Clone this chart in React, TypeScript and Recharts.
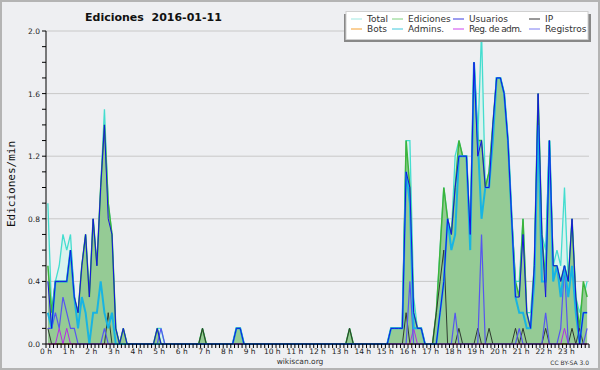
import { ComposedChart, Area, Line, XAxis, YAxis, CartesianGrid } from 'recharts';

// 10-minute slots, 6 per hour, values in edits per minute
const hourLabels = [
  '0 h', '1 h', '2 h', '3 h', '4 h', '5 h', '6 h', '7 h', '8 h', '9 h', '10 h', '11 h',
  '12 h', '13 h', '14 h', '15 h', '16 h', '17 h', '18 h', '19 h', '20 h', '21 h', '22 h', '23 h',
];
const yTicks = [0, 0.1, 0.2, 0.3, 0.4, 0.5, 0.6, 0.7, 0.8, 0.9, 1, 1.1, 1.2, 1.3, 1.4, 1.5, 1.6, 1.7, 1.8, 1.9, 2];
const gridValues = [0.4, 0.8, 1.2, 1.6, 2];

const total = [
  0.9, 0.2, 0.4, 0.5, 0.7, 0.6,
  0.7, 0.3, 0.2, 0.5, 0.7, 0.3,
  0.8, 0.5, 1.0, 1.5, 0.9, 0.7,
  0.1, 0, 0.1, 0, 0, 0,
  0, 0, 0, 0, 0, 0.1,
  0.1, 0, 0, 0, 0, 0,
  0, 0, 0, 0, 0, 0.1,
  0, 0, 0, 0, 0, 0,
  0, 0, 0.1, 0.1, 0, 0,
  0, 0, 0, 0, 0, 0,
  0, 0, 0, 0, 0, 0,
  0, 0, 0, 0, 0, 0,
  0, 0, 0, 0, 0, 0,
  0, 0, 0.1, 0, 0, 0,
  0, 0, 0, 0, 0, 0,
  0, 0.1, 0.1, 0.1, 0.1, 1.3,
  1.3, 0.3, 0.1, 0.1, 0, 0,
  0, 0.2, 0.6, 1.0, 0.8, 0.7,
  1.2, 1.3, 1.2, 1.2, 0.7, 1.8,
  1.3, 2.0, 1.0, 1.1, 1.4, 1.7,
  1.7, 1.6, 1.3, 0.8, 0.4, 0.4,
  0.8, 0.2, 0.2, 0.5, 1.6, 0.7,
  0.6, 1.3, 0.5, 0.6, 0.5, 1.0,
  0.4, 0.8, 0.3, 0.2, 0.3, 0.4,
];

const ediciones = [
  0.5, 0.2, 0.4, 0.4, 0.4, 0.4,
  0.6, 0.3, 0.2, 0.5, 0.7, 0.3,
  0.8, 0.5, 1.0, 1.4, 0.9, 0.7,
  0.1, 0, 0.1, 0, 0, 0,
  0, 0, 0, 0, 0, 0.1,
  0, 0, 0, 0, 0, 0,
  0, 0, 0, 0, 0, 0.1,
  0, 0, 0, 0, 0, 0,
  0, 0, 0.1, 0.1, 0, 0,
  0, 0, 0, 0, 0, 0,
  0, 0, 0, 0, 0, 0,
  0, 0, 0, 0, 0, 0,
  0, 0, 0, 0, 0, 0,
  0, 0, 0.1, 0, 0, 0,
  0, 0, 0, 0, 0, 0,
  0, 0.1, 0.1, 0.1, 0.1, 1.3,
  1.0, 0.2, 0.1, 0.1, 0, 0,
  0, 0.2, 0.6, 1.0, 0.8, 0.7,
  1.0, 1.3, 1.2, 1.2, 0.7, 1.8,
  1.3, 1.3, 1.0, 1.1, 1.4, 1.7,
  1.7, 1.6, 1.3, 0.8, 0.4, 0.3,
  0.8, 0.2, 0.1, 0.5, 1.6, 0.7,
  0.4, 1.3, 0.5, 0.5, 0.4, 0.5,
  0.4, 0.8, 0.3, 0.1, 0.4, 0.3,
];

const usuarios = [
  0.4, 0.1, 0.4, 0.4, 0.4, 0.4,
  0.6, 0.3, 0.2, 0.5, 0.7, 0.3,
  0.8, 0.5, 1.0, 1.4, 0.8, 0.7,
  0.1, 0, 0.1, 0, 0, 0,
  0, 0, 0, 0, 0, 0.1,
  0, 0, 0, 0, 0, 0,
  0, 0, 0, 0, 0, 0,
  0, 0, 0, 0, 0, 0,
  0, 0, 0.1, 0.1, 0, 0,
  0, 0, 0, 0, 0, 0,
  0, 0, 0, 0, 0, 0,
  0, 0, 0, 0, 0, 0,
  0, 0, 0, 0, 0, 0,
  0, 0, 0, 0, 0, 0,
  0, 0, 0, 0, 0, 0,
  0, 0.1, 0.1, 0.1, 0.1, 1.1,
  1.0, 0.2, 0.1, 0.1, 0, 0,
  0, 0, 0.2, 0.4, 0.8, 0.7,
  1.0, 1.2, 1.2, 1.2, 0.7, 1.8,
  1.2, 1.3, 1.0, 1.0, 1.4, 1.7,
  1.7, 1.6, 1.3, 0.8, 0.3, 0.3,
  0.7, 0.2, 0.1, 0.5, 1.6, 0.7,
  0.3, 1.3, 0.5, 0.5, 0.4, 0.5,
  0.4, 0.8, 0.3, 0, 0.2, 0.2,
];

const ip = [
  0.1, 0, 0, 0, 0, 0,
  0, 0, 0, 0, 0, 0,
  0, 0, 0, 0, 0.2, 0,
  0, 0, 0, 0, 0, 0,
  0, 0, 0, 0, 0, 0,
  0, 0, 0, 0, 0, 0,
  0, 0, 0, 0, 0, 0.1,
  0, 0, 0, 0, 0, 0,
  0, 0, 0, 0, 0, 0,
  0, 0, 0, 0, 0, 0,
  0, 0, 0, 0, 0, 0,
  0, 0, 0, 0, 0, 0,
  0, 0, 0, 0, 0, 0,
  0, 0, 0.1, 0, 0, 0,
  0, 0, 0, 0, 0, 0,
  0, 0, 0, 0, 0, 0.2,
  0, 0, 0, 0, 0, 0,
  0, 0.2, 0.4, 0.6, 0, 0,
  0, 0.1, 0, 0, 0, 0,
  0.1, 0, 0, 0.1, 0, 0,
  0, 0, 0, 0, 0.1, 0,
  0.1, 0, 0, 0, 0, 0,
  0.1, 0, 0, 0, 0, 0,
  0, 0.1, 0, 0.1, 0, 0,
];

const bots = [
  0, 0, 0, 0, 0, 0,  0, 0, 0, 0, 0, 0,  0, 0, 0, 0, 0, 0,  0, 0, 0, 0, 0, 0,
  0, 0, 0, 0, 0, 0,  0, 0, 0, 0, 0, 0,  0, 0, 0, 0, 0, 0,  0, 0, 0, 0, 0, 0,
  0, 0, 0, 0, 0, 0,  0, 0, 0, 0, 0, 0,  0, 0, 0, 0, 0, 0,  0, 0, 0, 0, 0, 0,
  0, 0, 0, 0, 0, 0,  0, 0, 0, 0, 0, 0,  0, 0, 0, 0, 0, 0,  0, 0, 0, 0, 0, 0,
  0, 0, 0, 0, 0, 0,  0, 0, 0, 0, 0, 0,  0, 0, 0, 0, 0, 0,  0, 0, 0, 0, 0, 0,
  0, 0, 0, 0, 0, 0,  0, 0, 0, 0, 0, 0,  0, 0, 0, 0, 0, 0,  0, 0, 0, 0, 0, 0,
];

const admins = [
  0.2, 0.1, 0.4, 0.4, 0.4, 0.4,
  0.6, 0.3, 0.1, 0.3, 0.2, 0,
  0.2, 0.2, 0.4, 0.2, 0.1, 0.2,
  0, 0, 0, 0, 0, 0,
  0, 0, 0, 0, 0, 0,
  0, 0, 0, 0, 0, 0,
  0, 0, 0, 0, 0, 0,
  0, 0, 0, 0, 0, 0,
  0, 0, 0.1, 0.1, 0, 0,
  0, 0, 0, 0, 0, 0,
  0, 0, 0, 0, 0, 0,
  0, 0, 0, 0, 0, 0,
  0, 0, 0, 0, 0, 0,
  0, 0, 0, 0, 0, 0,
  0, 0, 0, 0, 0, 0,
  0, 0.1, 0.1, 0.1, 0.1, 1.1,
  0.9, 0.1, 0.1, 0.1, 0, 0,
  0, 0, 0.2, 0.4, 0.8, 0.6,
  0.7, 1.2, 1.2, 1.2, 0.6, 1.8,
  1.3, 0.8, 1.0, 1.0, 1.3, 1.7,
  1.7, 1.6, 1.3, 0.8, 0.3, 0.2,
  0.2, 0.1, 0.1, 0.4, 1.4, 0.4,
  0.4, 1.3, 0.4, 0.5, 0.3, 0.5,
  0.3, 0.5, 0.2, 0, 0.2, 0.2,
];

const regAdm = [
  0, 0, 0, 0.1, 0, 0.1,  0, 0, 0, 0, 0, 0,  0, 0, 0, 0, 0, 0,  0, 0, 0, 0, 0, 0,
  0, 0, 0, 0, 0, 0,  0, 0, 0, 0, 0, 0,  0, 0, 0, 0, 0, 0,  0, 0, 0, 0, 0, 0,
  0, 0, 0, 0, 0, 0,  0, 0, 0, 0, 0, 0,  0, 0, 0, 0, 0, 0,  0, 0, 0, 0, 0, 0,
  0, 0, 0, 0, 0, 0,  0, 0, 0, 0, 0, 0,  0, 0, 0, 0, 0, 0,  0, 0, 0, 0, 0, 0,
  0, 0.1, 0, 0, 0, 0,  0, 0, 0, 0, 0, 0,  0, 0, 0, 0, 0, 0,  0, 0, 0, 0, 0, 0,
  0, 0, 0, 0, 0, 0,  0, 0, 0, 0, 0, 0,  0, 0, 0, 0, 0, 0.1,  0, 0, 0, 0, 0, 0,
];

const registros = [
  0.1, 0.1, 0.2, 0.1, 0.3, 0.2,
  0.1, 0.1, 0, 0, 0, 0,
  0, 0, 0, 0.1, 0, 0,
  0, 0, 0, 0, 0, 0,
  0, 0, 0, 0, 0, 0,
  0.1, 0, 0, 0, 0, 0,
  0, 0, 0, 0, 0, 0,
  0, 0, 0, 0, 0, 0,
  0, 0, 0, 0, 0, 0,
  0, 0, 0, 0, 0, 0,
  0, 0, 0, 0, 0, 0,
  0, 0, 0, 0, 0, 0,
  0, 0, 0, 0, 0, 0,
  0, 0, 0, 0, 0, 0,
  0, 0, 0, 0, 0, 0,
  0, 0, 0, 0, 0, 0,
  0.4, 0, 0, 0, 0, 0,
  0, 0, 0, 0, 0, 0,
  0.2, 0, 0, 0, 0, 0,
  0, 0.7, 0, 0, 0, 0,
  0, 0, 0, 0, 0, 0.1,
  0, 0, 0, 0, 0, 0,
  0.2, 0, 0, 0, 0.1, 0.5,
  0, 0, 0, 0, 0, 0.1,
];

const legendItems = [
  { name: 'Total', color: '#9fe8e2' },
  { name: 'Ediciones', color: '#7fd07f' },
  { name: 'Usuarios', color: '#3a3ae0' },
  { name: 'IP', color: '#333333' },
  { name: 'Bots', color: '#f5a030' },
  { name: 'Admins.', color: '#40c8dc' },
  { name: 'Reg. de adm.', color: '#cc44ee' },
  { name: 'Registros', color: '#7c7cf2' },
];

const data = total.map((v, i) => ({
  t: i + 0.5,
  total: v,
  ediciones: ediciones[i],
  usuarios: usuarios[i],
  ip: ip[i],
  bots: bots[i],
  admins: admins[i],
  regAdm: regAdm[i],
  registros: registros[i],
}));

const minorTicks = Array.from({ length: 145 }, (_, k) => k);
const font = '"DejaVu Sans", sans-serif';

function XTick(props: any) {
  const { x, y, payload } = props;
  const v = payload.value;
  if (v % 6 !== 0 || v >= 144) return <g />;
  return (
    <text x={x} y={y} dy={5} textAnchor="middle" fontSize={7.5} fontFamily={font} fill="#222">
      {hourLabels[v / 6]}
    </text>
  );
}

function YTick(props: any) {
  const { x, y, payload } = props;
  const tenth = Math.round(payload.value * 10);
  if (tenth % 4 !== 0) return <g />;
  return (
    <text x={x} y={y} dy={3} textAnchor="end" fontSize={7.5} fontFamily={font} fill="#222">
      {payload.value.toFixed(1)}
    </text>
  );
}

function Overlay() {
  const cols = [351, 392, 453, 529];
  return (
    <svg width={600} height={370} style={{ position: 'absolute', left: 0, top: 0, pointerEvents: 'none' }}>
      <text x={85} y={21} fontSize={11} fontWeight="bold" fontFamily={font} fill="#111" style={{ whiteSpace: 'pre' }}>
        {'Ediciones  2016-01-11'}
      </text>
      <text
        x={15}
        y={184}
        transform="rotate(-90 15 184)"
        textAnchor="middle"
        fontSize={11}
        fontFamily='"DejaVu Sans Mono", monospace'
        fill="#111"
      >
        Ediciones/min
      </text>
      <text x={300} y={364} textAnchor="middle" fontSize={7.5} fontFamily={font} fill="#333">
        wikiscan.org
      </text>
      <text x={589} y={364.5} textAnchor="end" fontSize={6} fontFamily={font} fill="#333">
        CC BY-SA 3.0
      </text>

      <rect x={344} y={14} width={247} height={28} fill="#888" />
      <rect x={346} y={11.5} width={242} height={28} fill="#fff" stroke="#d0d0d0" />
      {legendItems.map((item, k) => {
        const cx = cols[k % 4];
        const base = k < 4 ? 22 : 32;
        return (
          <g key={item.name}>
            <line x1={cx} x2={cx + 11} y1={base - 3} y2={base - 3} stroke={item.color} strokeWidth={1} />
            <text
              x={cx + 16}
              y={base}
              fontSize={9}
              fontFamily={font}
              fill="#333"
              letterSpacing={item.name === 'Reg. de adm.' ? -0.6 : 0}
            >
              {item.name}
            </text>
          </g>
        );
      })}
      <rect x={1} y={1} width={598} height={368} fill="none" stroke="#b4b4b4" strokeWidth={2} />
    </svg>
  );
}

export default function App() {
  return (
    <div style={{ position: 'relative', width: 600, height: 370, background: '#eeeff2' }}>
      <style>{'body{margin:0}'}</style>
      <ComposedChart width={600} height={370} data={data} margin={{ top: 31, right: 11, left: 0, bottom: 0 }}>
        <CartesianGrid vertical={false} horizontalValues={gridValues} stroke="#c8c8c8" />
        <XAxis
          dataKey="t"
          type="number"
          domain={[0, 144]}
          ticks={minorTicks}
          interval={0}
          tickSize={4}
          tickMargin={1}
          height={26}
          stroke="#000"
          tick={(p: any) => <XTick {...p} />}
        />
        <YAxis
          type="number"
          domain={[0, 2]}
          ticks={yTicks}
          interval={0}
          tickSize={4}
          tickMargin={2}
          width={46}
          stroke="#000"
          tick={(p: any) => <YTick {...p} />}
        />
        <Area type="linear" dataKey="total" stroke="#44ddcf" strokeWidth={1.3} fill="#d9f2ee" fillOpacity={1} isAnimationActive={false} dot={false} />
        <Area type="linear" dataKey="ediciones" stroke="#3cb43c" strokeWidth={1.5} fill="#95cb95" fillOpacity={1} isAnimationActive={false} dot={false} />
        <Line type="linear" dataKey="bots" stroke="#ff9a1a" strokeWidth={1} dot={false} isAnimationActive={false} />
        <Line type="linear" dataKey="ip" stroke="#2f3a2f" strokeWidth={1} dot={false} isAnimationActive={false} />
        <Line type="linear" dataKey="regAdm" stroke="#b62ae6" strokeWidth={1} dot={false} isAnimationActive={false} />
        <Line type="linear" dataKey="registros" stroke="#5656f0" strokeWidth={1.2} dot={false} isAnimationActive={false} />
        <Line type="linear" dataKey="admins" stroke="#18b4e2" strokeWidth={2} dot={false} isAnimationActive={false} />
        <Line type="linear" dataKey="usuarios" stroke="#1414e0" strokeWidth={1} dot={false} isAnimationActive={false} />
      </ComposedChart>
      <Overlay />
    </div>
  );
}
